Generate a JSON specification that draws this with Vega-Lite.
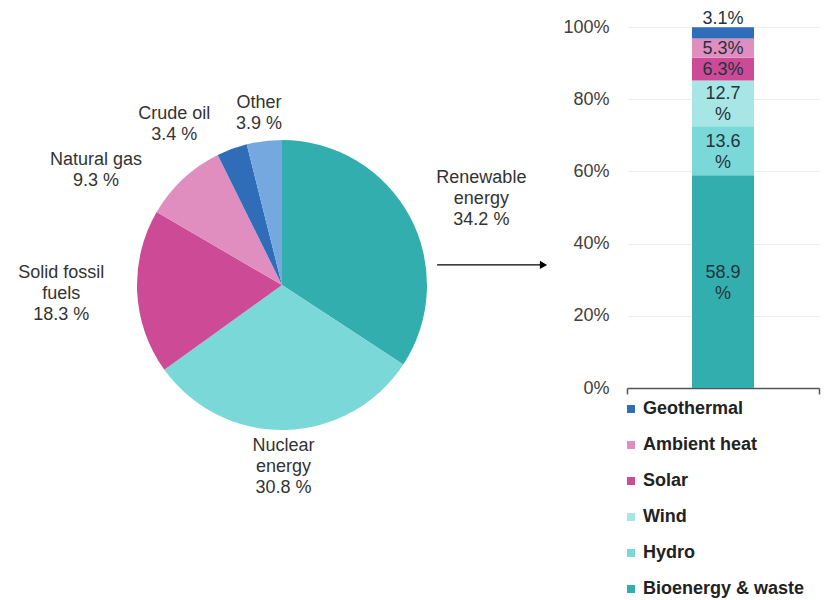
{
  "$schema": "https://vega.github.io/schema/vega-lite/v6.json",
  "padding": {"left": 5, "top": 9, "right": 5, "bottom": 5},
  "spacing": 3,
  "config": {"view": {"stroke": null}, "font": "Liberation Sans"},
  "resolve": {"scale": {"color": "independent", "x": "independent", "y": "independent"}, "legend": {"color": "independent"}},
  "hconcat": [
    {
      "width": 554,
      "height": 516,
      "data": {"values": [
        {"source": "Renewable energy", "share": 34.2, "rank": 1, "label": "Renewable\nenergy\n34.2 %"},
        {"source": "Nuclear energy", "share": 30.8, "rank": 2, "label": "Nuclear\nenergy\n30.8 %"},
        {"source": "Solid fossil fuels", "share": 18.3, "rank": 3, "label": "Solid fossil\nfuels\n18.3 %"},
        {"source": "Natural gas", "share": 9.3, "rank": 4, "label": "Natural  gas\n9.3 %"},
        {"source": "Crude oil", "share": 3.4, "rank": 5, "label": "Crude  oil\n3.4 %"},
        {"source": "Other", "share": 3.9, "rank": 6, "label": "Other\n3.9 %"}
      ]},
      "encoding": {
        "theta": {"field": "share", "type": "quantitative", "stack": true},
        "order": {"field": "rank", "type": "quantitative"}
      },
      "layer": [
        {
          "mark": {"type": "arc", "outerRadius": 145},
          "encoding": {
            "color": {"field": "source", "type": "nominal", "legend": null,
              "scale": {"domain": ["Renewable energy", "Nuclear energy", "Solid fossil fuels", "Natural gas", "Crude oil", "Other"],
                        "range": ["#33aeae", "#7ad8d8", "#cc4a96", "#e08ec0", "#2f6db8", "#74a8de"]}}
          }
        },
        {
          "mark": {"type": "text", "radius": 205, "dx": 19, "dy": -10, "lineBreak": "\n", "fontSize": 18, "lineHeight": 21, "fill": "#333333", "align": "center", "baseline": "middle"},
          "encoding": {"text": {"condition": {"test": "datum.source === 'Renewable energy'", "field": "label"}, "value": ""}}
        },
        {
          "mark": {"type": "text", "radius": 205, "dx": -3, "dy": -44, "lineBreak": "\n", "fontSize": 18, "lineHeight": 21, "fill": "#333333", "align": "center", "baseline": "middle"},
          "encoding": {"text": {"condition": {"test": "datum.source === 'Nuclear energy'", "field": "label"}, "value": ""}}
        },
        {
          "mark": {"type": "text", "radius": 205, "dx": -16, "dy": -22, "lineBreak": "\n", "fontSize": 18, "lineHeight": 21, "fill": "#333333", "align": "center", "baseline": "middle"},
          "encoding": {"text": {"condition": {"test": "datum.source === 'Solid fossil fuels'", "field": "label"}, "value": ""}}
        },
        {
          "mark": {"type": "text", "radius": 205, "dx": -46, "dy": 25, "lineBreak": "\n", "fontSize": 18, "lineHeight": 21, "fill": "#333333", "align": "center", "baseline": "middle"},
          "encoding": {"text": {"condition": {"test": "datum.source === 'Natural gas'", "field": "label"}, "value": ""}}
        },
        {
          "mark": {"type": "text", "radius": 205, "dx": -37, "dy": 21, "lineBreak": "\n", "fontSize": 18, "lineHeight": 21, "fill": "#333333", "align": "center", "baseline": "middle"},
          "encoding": {"text": {"condition": {"test": "datum.source === 'Crude oil'", "field": "label"}, "value": ""}}
        },
        {
          "mark": {"type": "text", "radius": 205, "dx": 2, "dy": 21, "lineBreak": "\n", "fontSize": 18, "lineHeight": 21, "fill": "#333333", "align": "center", "baseline": "middle"},
          "encoding": {"text": {"condition": {"test": "datum.source === 'Other'", "field": "label"}, "value": ""}}
        },
        {
          "data": {"values": [{"from": 0.78, "to": 0.968, "level": 0.461}]},
          "mark": {"type": "rule", "color": "#000000", "strokeWidth": 1.2},
          "encoding": {
            "theta": null, "order": null,
            "x": {"field": "from", "type": "quantitative", "scale": {"domain": [0, 1]}, "axis": null},
            "x2": {"field": "to"},
            "y": {"field": "level", "type": "quantitative", "scale": {"domain": [0, 1], "reverse": true}, "axis": null}
          }
        },
        {
          "data": {"values": [{"to": 0.972, "level": 0.461}]},
          "mark": {"type": "point", "shape": "triangle-right", "filled": true, "color": "#000000", "size": 70, "opacity": 1},
          "encoding": {
            "theta": null, "order": null,
            "x": {"field": "to", "type": "quantitative", "scale": {"domain": [0, 1]}, "axis": null},
            "y": {"field": "level", "type": "quantitative", "scale": {"domain": [0, 1], "reverse": true}, "axis": null}
          }
        }
      ]
    },
    {
      "width": 192,
      "height": 361,
      "data": {"values": [
        {"group": "Renewable energy", "type": "Bioenergy & waste", "share": 58.9, "rank": 1, "label": "58.9\n%"},
        {"group": "Renewable energy", "type": "Hydro", "share": 13.6, "rank": 2, "label": "13.6\n%"},
        {"group": "Renewable energy", "type": "Wind", "share": 12.7, "rank": 3, "label": "12.7\n%"},
        {"group": "Renewable energy", "type": "Solar", "share": 6.3, "rank": 4, "label": "6.3%"},
        {"group": "Renewable energy", "type": "Ambient heat", "share": 5.3, "rank": 5, "label": "5.3%"},
        {"group": "Renewable energy", "type": "Geothermal", "share": 3.1, "rank": 6, "label": "3.1%"}
      ]},
      "encoding": {
        "x": {"field": "group", "type": "nominal", "title": null,
              "scale": {"paddingInner": 0, "paddingOuter": 0},
              "axis": {"labels": false, "bandPosition": 1, "tickExtra": true, "domainColor": "#555555", "tickColor": "#555555", "tickSize": 6, "domainWidth": 1.5, "tickWidth": 1.5}},
        "y": {"field": "share", "type": "quantitative", "stack": "zero", "title": null,
              "scale": {"domain": [0, 100]},
              "axis": {"values": [0, 20, 40, 60, 80, 100], "labelExpr": "datum.value + '%'", "domain": false, "ticks": false, "grid": true, "gridColor": "#efefef", "labelFontSize": 18, "labelColor": "#404040", "labelPadding": 18}},
        "order": {"field": "rank", "type": "quantitative"}
      },
      "layer": [
        {
          "mark": {"type": "bar", "width": 62},
          "encoding": {
            "color": {"field": "type", "type": "nominal",
              "scale": {"domain": ["Geothermal", "Ambient heat", "Solar", "Wind", "Hydro", "Bioenergy & waste"],
                        "range": ["#2f6db8", "#e08ec0", "#cc4a96", "#a8e6e6", "#7ad8d8", "#33aeae"]},
              "legend": {"orient": "none", "legendX": -5, "legendY": 373, "title": null, "symbolType": "square", "symbolSize": 64, "symbolStrokeWidth": 0, "labelFontSize": 18, "labelFontWeight": "bold", "labelColor": "#222222", "rowPadding": 18, "labelOffset": 3, "labelLimit": 0}}
          }
        },
        {
          "mark": {"type": "text", "lineBreak": "\n", "fontSize": 18, "lineHeight": 21, "fill": "#22333d", "baseline": "middle", "dy": -9},
          "encoding": {
            "y": {"field": "share", "type": "quantitative", "stack": "zero", "bandPosition": 0.5},
            "text": {"condition": {"test": "datum.rank <= 3", "field": "label"}, "value": ""}
          }
        },
        {
          "mark": {"type": "text", "lineBreak": "\n", "fontSize": 18, "lineHeight": 21, "fill": "#22333d", "baseline": "middle", "dy": 1},
          "encoding": {
            "y": {"field": "share", "type": "quantitative", "stack": "zero", "bandPosition": 0.5},
            "text": {"condition": {"test": "datum.rank === 4 || datum.rank === 5", "field": "label"}, "value": ""}
          }
        },
        {
          "mark": {"type": "text", "lineBreak": "\n", "fontSize": 18, "lineHeight": 21, "fill": "#22333d", "baseline": "middle", "dy": -14},
          "encoding": {
            "y": {"field": "share", "type": "quantitative", "stack": "zero", "bandPosition": 0.5},
            "text": {"condition": {"test": "datum.type === 'Geothermal'", "field": "label"}, "value": ""}
          }
        }
      ]
    }
  ]
}
